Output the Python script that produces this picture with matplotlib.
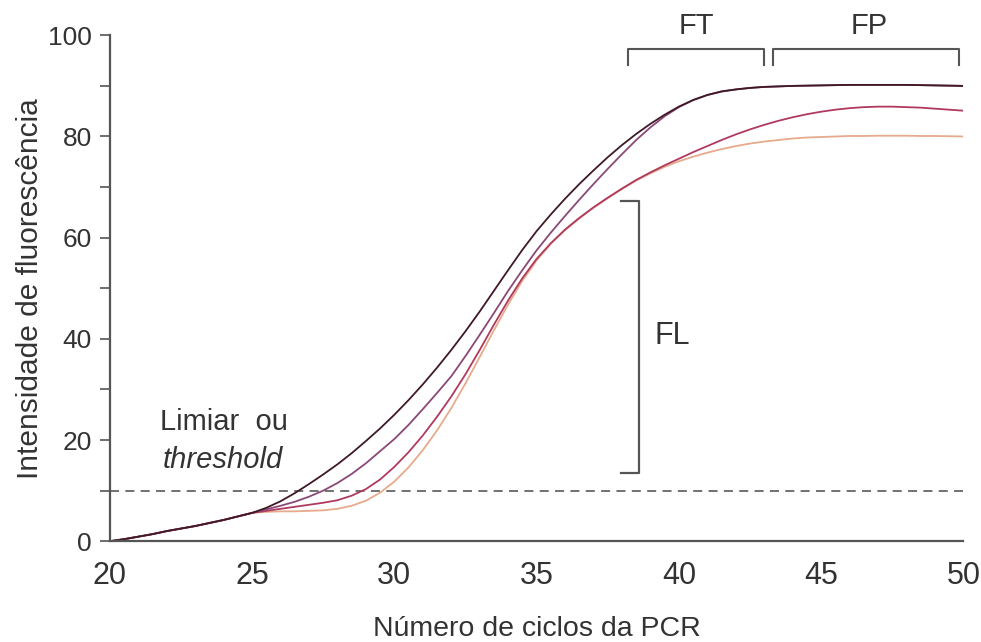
import matplotlib
matplotlib.use("Agg")
import matplotlib.pyplot as plt

cycles = [20 + 0.5 * i for i in range(61)]
base = [0, 0.4, 0.9, 1.4, 2.0, 2.5, 3.0, 3.6, 4.2, 4.9, 5.6]
curve_a = base + [6.6, 7.9, 9.5, 11.3, 13.2, 15.2, 17.4, 19.8, 22.3, 25.0,
                  27.9, 31.0, 34.3, 37.8, 41.5, 45.4, 49.5, 53.6, 57.6, 61.3,
                  64.6, 67.7, 70.6, 73.3, 75.9, 78.3, 80.5, 82.5, 84.3, 85.9,
                  87.2, 88.2, 88.9, 89.3, 89.6, 89.8, 89.9, 90.0, 90.05, 90.1,
                  90.15, 90.2, 90.2, 90.2, 90.2, 90.2, 90.15, 90.1, 90.05, 90.0]
curve_b = base + [6.3, 7.0, 7.8, 8.8, 10.0, 11.5, 13.3, 15.4, 17.8, 20.2,
                  23.0, 26.1, 29.3, 32.6, 36.6, 40.8, 45.1, 49.5, 53.6, 57.5,
                  61.0, 64.3, 67.5, 70.6, 73.6, 76.5, 79.3, 81.8, 84.0, 85.8,
                  87.2, 88.2, 88.9, 89.3, 89.6, 89.8, 89.9, 90.0, 90.05, 90.1,
                  90.15, 90.2, 90.2, 90.2, 90.2, 90.2, 90.15, 90.1, 90.05, 90.0]
curve_c = base + [6.0, 6.4, 6.8, 7.2, 7.6, 8.1, 9.0, 10.3, 12.2, 14.7,
                  17.6, 20.9, 24.6, 28.6, 33.0, 37.8, 42.8, 47.6, 52.0, 55.8,
                  58.9, 61.6, 63.9, 66.0, 67.9, 69.7, 71.4, 72.9, 74.3, 75.6,
                  76.9, 78.1, 79.3, 80.4, 81.4, 82.3, 83.1, 83.8, 84.4, 84.9,
                  85.3, 85.6, 85.8, 85.9, 85.9, 85.8, 85.7, 85.5, 85.3, 85.1]
curve_d = base + [5.8, 5.9, 5.9, 6.0, 6.1, 6.4, 7.0, 8.0, 9.6, 11.8,
                  14.6, 18.0, 21.9, 26.3, 31.2, 36.4, 41.7, 46.8, 51.5, 55.5,
                  58.8, 61.5, 63.8, 65.9, 67.8, 69.6, 71.3, 72.7, 74.0, 75.1,
                  76.0, 76.8, 77.5, 78.1, 78.6, 79.0, 79.3, 79.6, 79.8, 79.9,
                  80.0, 80.1, 80.1, 80.15, 80.15, 80.15, 80.1, 80.1, 80.05, 80.0]
curve_colors = ["#3f1a26", "#8a4878", "#b03a5e", "#e6aa8c"]
threshold = 10
y_ticks = [0, 20, 40, 60, 80, 100]
y_minor = [10, 30, 50, 70, 90]
x_ticks = [20, 25, 30, 35, 40, 45, 50]

plt.rcParams['font.family'] = ['Liberation Sans', 'DejaVu Sans']
txt = "#333333"
gray = "#555555"

fig = plt.figure(figsize=(9.81, 6.42), dpi=100)
ax = fig.add_axes([0.112, 0.157, 0.870, 0.788])

for ys, c in zip([curve_d, curve_c, curve_b, curve_a], curve_colors[::-1]):
    ax.plot(cycles, ys, color=c, lw=1.3, solid_capstyle='round', solid_joinstyle='round')

ax.axhline(threshold, color="#666666", lw=1.3, ls=(0, (5, 3.5)), zorder=0)

ax.set_xlim(20, 50)
ax.set_ylim(0, 100)
ax.set_xticks(x_ticks)
ax.set_yticks(y_ticks)
ax.set_yticks(y_minor, minor=True)
for s in ['top', 'right']:
    ax.spines[s].set_visible(False)
for s in ['left', 'bottom']:
    ax.spines[s].set_color(gray)
    ax.spines[s].set_linewidth(1.6)
ax.tick_params(axis='y', which='both', length=7, width=1.2, color=gray,
               labelsize=19, labelcolor=txt, pad=6)
ax.tick_params(axis='x', length=0, pad=14, labelsize=22, labelcolor=txt)

ax.set_xlabel("Número de ciclos da PCR", fontsize=20.5, color=txt, labelpad=18)
ax.set_ylabel("Intensidade de fluorescência", fontsize=21.5, color=txt, labelpad=3)

# FT / FP brackets
ax.plot([38.2, 38.2, 43.0, 43.0], [94.2, 97.3, 97.3, 94.2], color=gray, lw=1.5, clip_on=False)
ax.plot([43.3, 43.3, 49.85, 49.85], [94.2, 97.3, 97.3, 94.2], color=gray, lw=1.5, clip_on=False)
ax.text(40.6, 99.0, "FT", fontsize=21, color=txt, ha='center', va='bottom')
ax.text(46.7, 99.0, "FP", fontsize=21, color=txt, ha='center', va='bottom')
# FL bracket
ax.plot([37.95, 38.6, 38.6, 37.95], [67.2, 67.2, 13.5, 13.5], color=gray, lw=1.6)
ax.text(39.15, 40.5, "FL", fontsize=22, color=txt, ha='left', va='center')

ax.text(21.75, 23.5, "Limiar  ou", fontsize=21, color=txt, ha='left', va='center')
ax.text(21.85, 16.0, "threshold", fontsize=21, color=txt, ha='left', va='center',
        style='italic')

fig.savefig("out.png", dpi=100)
